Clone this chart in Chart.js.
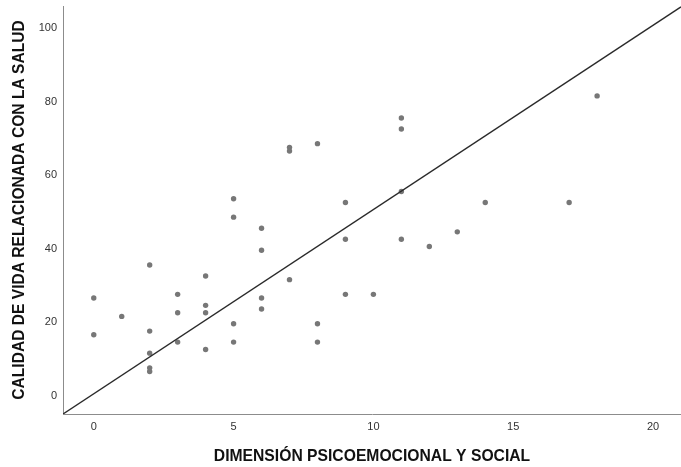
<!DOCTYPE html>
<html>
<head>
<meta charset="utf-8">
<script src="https://cdn.jsdelivr.net/npm/chart.js@4/dist/chart.umd.min.js"></script>
<style>
  html, body { margin: 0; padding: 0; background: #ffffff; }
  #wrap { width: 681px; height: 467px; }
</style>
</head>
<body>
<div id="wrap"><canvas id="c" width="681" height="467"></canvas></div>
<script>
// Data
const xValues = [0, 0, 1, 2, 2, 2, 2, 2, 3, 3, 3, 4, 4, 4, 4, 5, 5, 5, 5, 6, 6, 6, 6, 7, 7, 7, 8, 8, 8, 9, 9, 9, 10, 11, 11, 11, 11, 12, 13, 14, 17, 18];
const yValues = [26, 16, 21, 35, 17, 11, 7, 6, 27, 22, 14, 32, 24, 22, 12, 53, 48, 19, 14, 45, 39, 26, 23, 67, 66, 31, 68, 19, 14, 52, 42, 27, 27, 75, 72, 55, 42, 40, 44, 52, 52, 81];
const lineX = [-1.1, 21];
const lineY = [-5.56, 105.2];
const xTicks = [0, 5, 10, 15, 20];
const yTicks = [0, 20, 40, 60, 80, 100];
const xTitle = "DIMENSIÓN PSICOEMOCIONAL Y SOCIAL";
const yTitle = "CALIDAD DE VIDA RELACIONADA CON LA SALUD";

const points = xValues.map((x, i) => ({ x: x, y: yValues[i] }));
const linePts = lineX.map((x, i) => ({ x: x, y: lineY[i] }));

new Chart(document.getElementById('c'), {
  type: 'scatter',
  data: {
    datasets: [
      {
        data: points,
        backgroundColor: '#777777',
        borderWidth: 0,
        pointRadius: 2.7,
        pointHoverRadius: 2.7,
        order: 2
      },
      {
        type: 'line',
        data: linePts,
        borderColor: '#2a2a2a',
        borderWidth: 1.4,
        pointRadius: 0,
        fill: false,
        order: 1
      }
    ]
  },
  options: {
    responsive: false,
    animation: false,
    events: [],
    layout: { autoPadding: false, padding: { top: 0, right: 0, bottom: 0, left: 0 } },
    plugins: { legend: { display: false }, tooltip: { enabled: false } },
    scales: {
      x: {
        type: 'linear',
        min: -1.1,
        max: 21,
        grid: { display: false, drawTicks: false },
        border: { display: true, color: '#8c8c8c', width: 1 },
        afterBuildTicks: s => { s.ticks = xTicks.map(v => ({ value: v })); },
        afterFit: s => { s.height = 53; s.paddingLeft = 0; s.paddingRight = 0; },
        ticks: {
          color: '#333333',
          font: { family: 'Liberation Sans, Arial, sans-serif', size: 11 },
          padding: 6,
          maxRotation: 0
        },
        title: {
          display: true,
          text: xTitle,
          color: '#111111',
          font: { family: 'Liberation Sans, Arial, sans-serif', size: 15.7, weight: 'bold' },
          padding: { top: 0, bottom: 1 }
        }
      },
      y: {
        type: 'linear',
        min: -5.56,
        max: 105.46,
        grid: { display: false, drawTicks: false },
        border: { display: true, color: '#8c8c8c', width: 1 },
        afterBuildTicks: s => { s.ticks = yTicks.map(v => ({ value: v })); },
        afterFit: s => { s.width = 63; s.paddingTop = 6; s.paddingBottom = 0; },
        ticks: {
          color: '#333333',
          font: { family: 'Liberation Sans, Arial, sans-serif', size: 11 },
          padding: 6,
          labelOffset: 2
        },
        title: {
          display: true,
          text: yTitle,
          color: '#111111',
          font: { family: 'Liberation Sans, Arial, sans-serif', size: 15.6, weight: 'bold' },
          padding: { top: 10, bottom: 0 }
        }
      }
    }
  }
});
</script>
</body>
</html>
